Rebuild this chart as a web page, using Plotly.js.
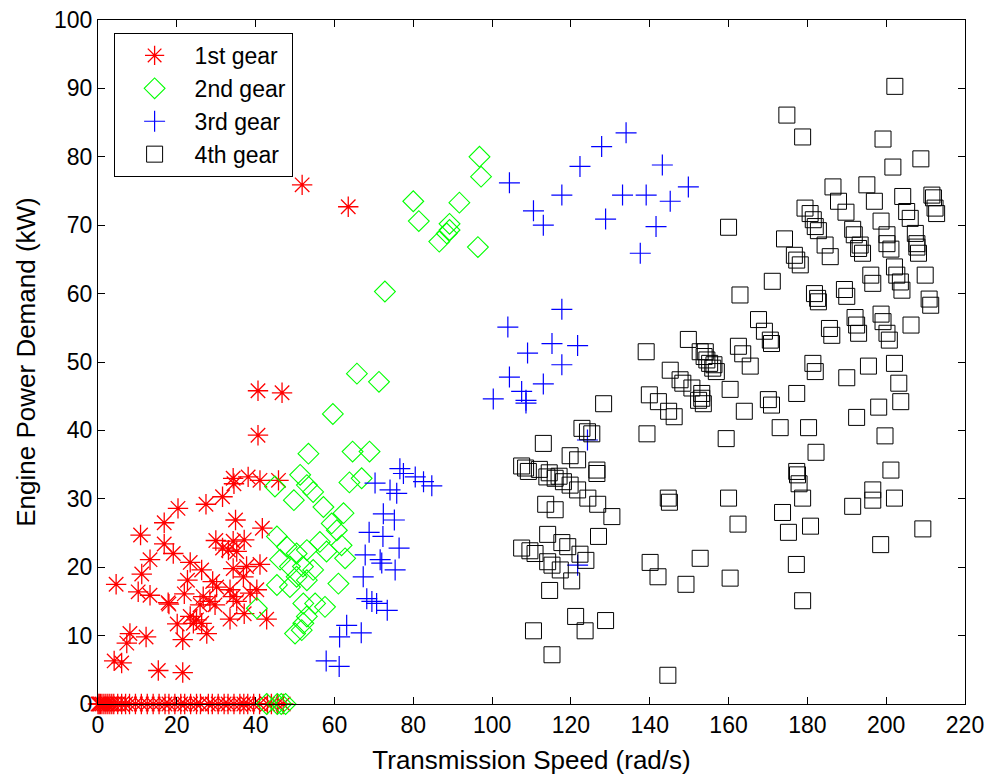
<!DOCTYPE html>
<html><head><meta charset="utf-8">
<script src="https://cdn.plot.ly/plotly-3.0.1.min.js"></script>
<style>html,body{margin:0;padding:0;background:#fff}#chart{width:997px;height:782px}</style>
</head><body><div id="chart"></div>
<script>
// 1st gear
const gear1X = [51.8,63.5,40.6,46.7,40.6,38.1,41.1,45.8,34.5,34.3,31.6,27.4,20.3,16.8,10.8,16.8,34.9,41.7,29.9,31.6,34.3,37.1,33.1,35.2,13.2,23.4,34.3,37.7,41.1,26.3,11.1,36.9,22.7,29.1,4.6,30.1,33.5,10.2,13.2,21.9,26.7,28.4,34.3,38.6,40.3,17.8,18.0,25.9,29.7,35.2,37.1,42.8,23.4,25.0,24.2,26.3,33.5,20.1,27.6,21.5,12.2,8.1,7.3,4.1,6.0,15.3,21.5,19.1,
  0,0.3,0.6,1,1.5,2,2.5,3,3.5,4,5,6,7,8,9.5,11,12.5,14,15.5,17,18,19.5,21,22,23.5,25,26,28,29,30.5,32,33,34.5,36,37,38,39.5,41,43,44,45.5,47];
const gear1Y = [75.9,72.7,45.8,45.5,39.3,33.2,32.7,32.7,32.2,33.0,30.3,29.2,28.6,26.5,24.7,23.4,26.9,25.7,23.9,22.8,23.8,24.0,22.5,22.3,21.1,20.7,19.8,20.1,20.4,19.6,19.0,18.6,18.1,17.9,17.5,17.1,16.7,16.4,15.9,16.1,15.7,15.0,15.7,16.2,16.7,14.8,14.6,14.5,14.5,15.0,13.2,12.4,12.8,12.3,11.8,11.8,12.4,11.7,10.3,9.4,9.8,10.3,8.9,6.3,6.0,4.9,4.6,22.0,
  0,0,0,0,0,0,0,0,0,0,0,0,0,0,0,0,0,0,0,0,0,0,0,0,0,0,0,0,0,0,0,0,0,0,0,0,0,0,0,0,0,0];
// 2nd gear
const gear2X = [96.8,97.2,80.0,91.7,81.4,89.2,89.2,88.5,86.6,96.4,72.8,65.7,71.3,59.6,53.4,64.6,68.9,63.8,66.9,53.0,54.6,57.2,62.3,59.3,60.6,56.3,61.8,53.0,62.7,58.0,54.6,61.0,53.0,57.6,55.1,53.0,51.7,44.9,49.7,51.3,45.4,47.9,50.4,46.2,48.7,52.0,45.4,48.7,50.4,52.1,40.3,50.0,52.1,42.8,45.5,46.5,47.6];
const gear2Y = [80.0,77.1,73.5,73.3,70.6,70.2,69.3,68.8,67.6,66.8,60.3,48.3,47.1,42.4,36.6,36.9,36.9,32.4,33.0,32.0,31.0,28.8,27.9,26.4,25.4,23.7,23.2,22.5,21.3,22.3,19.6,17.6,18.1,14.2,14.7,12.8,10.8,31.8,29.8,33.5,24.5,23.0,22.0,21.1,20.1,20.1,17.4,17.1,18.6,14.7,14.0,10.3,11.8,0,0,0,0];
// 3rd gear
const gear3X = [134.0,127.8,122.3,143.2,104.4,149.8,117.7,133.1,139.1,145.2,110.5,113.0,128.8,141.6,137.6,117.7,104.0,115.2,121.7,109.0,117.7,104.4,113.0,107.5,108.6,108.6,100.3,124.2,121.7,76.6,70.3,74.1,75.8,77.5,80.5,82.6,84.7,72.4,75.2,68.8,72.3,76.4,67.8,71.6,72.0,75.4,67.3,68.2,69.5,70.7,73.4,63.1,66.8,61.3,57.9,61.2];
const gear3Y = [83.5,81.5,78.6,78.8,76.2,75.6,74.4,74.4,74.4,73.5,72.1,70.0,70.9,69.8,65.9,57.7,55.1,52.7,52.4,51.3,49.6,47.8,46.8,45.7,44.4,44.0,44.6,38.6,20.3,34.4,32.3,31.3,30.8,33.7,33.2,32.5,31.9,27.8,26.9,25.1,24.5,22.8,21.8,21.1,20.6,19.6,18.6,15.4,15.0,14.7,13.7,11.5,10.4,9.8,6.3,5.5];
// 4th gear
const gear4X = [202.2,174.8,178.8,199.2,208.8,201.7,160.0,186.5,195.1,187.9,197.0,204.2,211.6,212.0,179.4,180.7,181.5,182.0,182.8,189.8,198.7,205.2,206.1,212.4,212.8,174.2,191.5,191.9,200.2,207.4,207.8,193.4,184.5,
  176.7,177.3,178.2,185.8,193.0,194.0,200.2,201.2,207.8,208.2,202.1,196.1,196.6,202.7,203.6,204.0,209.9,171.1,162.9,181.8,182.6,182.8,189.4,190.0,210.9,211.3,167.6,169.1,170.6,170.9,185.6,186.2,192.1,192.5,193.0,198.7,199.2,200.2,200.8,206.3,154.1,162.5,163.6,165.5,154.5,156.3,156.9,181.4,182.0,190.0,195.5,202.1,203.2,203.7,160.4,153.2,153.6,170.1,170.9,177.3,164.0,159.4,173.1,180.3,182.2,192.5,198.1,199.7,177.3,177.5,201.2,
  177.9,160.0,178.8,196.6,196.6,202.1,191.5,173.7,162.4,180.8,175.2,209.3,198.6,152.8,177.2,160.4,178.8,
  144.7,145.0,140.1,142.1,149.2,144.6,113.6,116.0,126.8,130.4,127.0,114.1,117.7,119.2,107.5,109.6,110.9,122.3,123.8,114.1,115.2,117.3,120.2,114.6,121.2,128.8,123.6,110.5,115.2,109.2,113.9,116.0,118.1,119.8,121.7,126.6,124.3,
  139.1,149.8,152.8,153.8,155.2,156.0,145.2,147.7,148.4,150.7,152.4,139.9,142.2,144.8,146.2,139.3,128.3,122.8,124.2,125.3,113.0,119.8,121.7,126.6,107.5,108.5,112.0,114.5,117.0,153.2];
const gear4Y = [90.3,86.1,82.9,82.6,79.7,78.5,69.7,75.6,75.9,73.5,73.5,74.2,74.4,74.0,72.5,71.7,70.8,69.8,69.2,71.9,70.6,72.0,71.0,72.5,71.7,68.0,69.4,68.6,68.6,68.8,67.3,67.1,67.1,
  65.6,64.9,64.2,65.4,66.6,65.9,67.3,66.5,66.8,65.9,63.9,62.7,61.5,62.7,61.7,60.5,62.7,61.8,59.8,60.0,59.3,58.8,60.6,59.6,59.2,58.3,56.2,54.5,53.2,52.7,54.9,53.9,56.5,55.4,54.2,57.0,55.9,54.2,53.2,55.4,51.5,52.3,51.2,49.4,50.3,49.6,48.6,49.8,48.6,47.7,49.4,49.8,46.9,44.2,46.0,44.7,43.9,44.5,43.7,45.4,42.8,38.8,40.4,40.4,36.8,41.9,43.4,39.2,34.0,33.5,34.2,
  32.2,30.1,30.1,31.3,29.8,30.1,28.9,28.0,26.3,26.0,25.1,25.6,23.3,21.3,20.4,18.4,15.1,
  30.1,29.5,20.7,18.6,17.5,4.2,29.2,28.4,29.2,27.4,24.5,24.8,23.6,23.0,22.8,22.4,22.0,21.9,21.0,20.8,20.3,19.6,18.0,16.6,12.8,12.2,10.7,10.7,7.2,34.0,33.2,33.0,32.5,32.0,31.3,33.7,30.1,
  51.5,53.3,51.5,50.8,49.8,49.1,48.8,47.4,46.9,46.2,44.4,45.2,44.2,42.8,42.0,39.5,43.9,40.3,39.8,39.5,38.1,36.3,35.7,34.2,34.8,34.5,34.3,33.8,33.3,45.4];
const seriesNames = ['1st gear','2nd gear','3rd gear','4th gear'];

const FONT = 'Liberation Sans, Arial, sans-serif';
const traces = [
  {x: gear1X, y: gear1Y, name: seriesNames[0], mode: 'markers', type: 'scatter', cliponaxis: false,
   marker: {symbol: 'asterisk-open', size: 17, color: '#ff0000', line: {color: '#ff0000', width: 1.3}}},
  {x: gear2X, y: gear2Y, name: seriesNames[1], mode: 'markers', type: 'scatter', cliponaxis: false,
   marker: {symbol: 'diamond-open', size: 16, color: '#00ff00', line: {color: '#00ff00', width: 1.1}}},
  {x: gear3X, y: gear3Y, name: seriesNames[2], mode: 'markers', type: 'scatter', cliponaxis: false,
   marker: {symbol: 'cross-thin-open', size: 15, color: '#0000ff', line: {color: '#0000ff', width: 1.2}}},
  {x: gear4X, y: gear4Y, name: seriesNames[3], mode: 'markers', type: 'scatter', cliponaxis: false,
   marker: {symbol: 'square-open', size: 16, color: '#000000', line: {color: '#000000', width: 1}}}
];
const axisCommon = {showgrid: false, zeroline: false, showline: true, linecolor: '#000', linewidth: 1,
  mirror: 'ticks', ticks: 'inside', ticklen: 7, tickcolor: '#000',
  tickfont: {family: FONT, size: 23, color: '#000'}};
const layout = {
  width: 997, height: 782,
  margin: {l: 98, r: 32, t: 20, b: 78},
  paper_bgcolor: '#fff', plot_bgcolor: '#fff',
  font: {family: FONT, color: '#000'},
  xaxis: Object.assign({}, axisCommon, {range: [0, 220], dtick: 20, tick0: 0,
    title: {text: 'Transmission Speed (rad/s)', font: {family: FONT, size: 26}, standoff: 14}}),
  yaxis: Object.assign({}, axisCommon, {range: [0, 100], dtick: 10, tick0: 0,
    title: {text: 'Engine Power Demand (kW)', font: {family: FONT, size: 26}, standoff: 10}}),
  showlegend: true,
  legend: {x: 0.018, y: 0.981, xanchor: 'left', yanchor: 'top', bgcolor: '#fff',
    bordercolor: '#000', borderwidth: 1, font: {family: FONT, size: 23}, itemwidth: 70,
    itemsizing: 'trace', tracegroupgap: 0}
};
Plotly.newPlot('chart', traces, layout, {displayModeBar: false, staticPlot: true});
</script></body></html>
